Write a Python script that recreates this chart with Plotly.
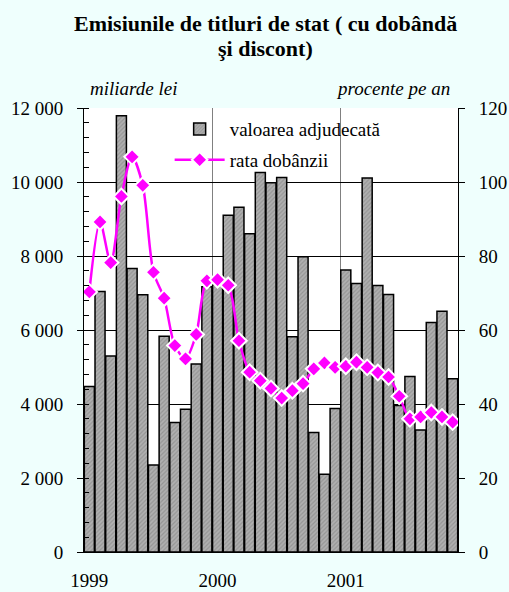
import plotly.graph_objects as go

# Monthly data Jan 1999 - Nov 2001
months = list(range(35))
valoarea = [4470, 7040, 5300, 11790, 7660, 6950, 2350, 5830, 3500, 3860, 5080, 7170,
            7230, 9100, 9320, 8600, 10260, 9980, 10120, 5820, 7980, 3230, 2100, 3880,
            7620, 7260, 10110, 7200, 6960, 3960, 4740, 3300, 6200, 6510, 4680]
rata = [70.3, 89.2, 78.2, 96.1, 106.8, 99.1, 75.6, 68.6, 55.8, 52.2, 58.8, 73.3,
        73.6, 72.1, 57.1, 48.6, 46.3, 44.2, 41.6, 43.6, 45.5, 49.5, 51.1, 49.9,
        50.2, 51.3, 49.9, 48.5, 47.3, 42.1, 36.0, 36.5, 37.7, 36.5, 35.1]
year_pos = [0, 12, 24]
year_labels = ["1999", "2000", "2001"]
year_bounds = [11.5, 23.5]
y1_ticks = [0, 2000, 4000, 6000, 8000, 10000, 12000]
y1_labels = ["0", "2 000", "4 000", "6 000", "8 000", "10 000", "12 000"]

FONT = "Times New Roman"
BG = "#effffd"
regfont = dict(family=FONT, size=19, color="black", weight=500)

fig = go.Figure()
fig.add_trace(go.Bar(
    x=months, y=valoarea, name="valoarea adjudecată", legendgroup="a",
    marker=dict(color="#a8a8a8", line=dict(color="black", width=1.5),
                pattern=dict(shape="/", fgcolor="#7a7a7a", bgcolor="#b0b0b0",
                             size=3, solidity=0.4)),
))
fig.add_trace(go.Scatter(
    x=months, y=rata, name="rata dobânzii", yaxis="y2", mode="lines+markers",
    legendgroup="b",
    line=dict(color="#ff00ff", width=2.5, shape="spline", smoothing=0.8),
    marker=dict(symbol="diamond", size=12, color="#ff00ff",
                line=dict(color="white", width=2)),
))

fig.update_layout(
    width=509, height=592,
    margin=dict(l=84, r=51, t=108, b=40, autoexpand=False),
    paper_bgcolor=BG, plot_bgcolor="white",
    font=regfont,
    bargap=0.06,
    showlegend=True,
    legend=dict(x=0.229, y=0.995, xanchor="left", yanchor="top",
                bgcolor="rgba(0,0,0,0)", borderwidth=0, font=regfont,
                tracegroupgap=3, itemwidth=50),
    xaxis=dict(range=[-0.5, 34.5], tickmode="array", tickvals=year_pos,
               ticktext=year_labels, ticks="", showgrid=False, zeroline=False,
               showline=True, linecolor="black", linewidth=1,
               ticklabelstandoff=11, tickfont=regfont,
               minor=dict(tickmode="array", tickvals=year_bounds, showgrid=True,
                          gridcolor="#808080", gridwidth=1, ticks="")),
    yaxis=dict(range=[0, 12000], tickmode="array", tickvals=y1_ticks, ticktext=y1_labels,
               ticks="outside", ticklen=6, tickcolor="black", showgrid=True,
               gridcolor="black", gridwidth=1, zeroline=False,
               showline=True, linecolor="black", linewidth=1,
               ticklabelstandoff=10, tickfont=regfont,
               minor=dict(dtick=400, ticks="inside", ticklen=5, tickcolor="black",
                          showgrid=False)),
    yaxis2=dict(range=[0, 120], dtick=20, overlaying="y", side="right",
                ticks="outside", ticklen=6, tickcolor="black", showgrid=False,
                zeroline=False, showline=True, linecolor="black", linewidth=1,
                ticklabelstandoff=10, tickfont=regfont),
    annotations=[
        dict(text="<b>Emisiunile de titluri de stat ( cu dobândă</b>", xref="paper",
             yref="paper", x=0.484, y=1.191, xanchor="center", yanchor="middle",
             showarrow=False, font=dict(family=FONT, size=22)),
        dict(text="<b>şi discont)</b>", xref="paper",
             yref="paper", x=0.484, y=1.133, xanchor="center", yanchor="middle",
             showarrow=False, font=dict(family=FONT, size=22)),
        dict(text="miliarde lei", xref="paper", yref="paper", x=0.01, y=1.045,
             xanchor="left", yanchor="middle", showarrow=False,
             font=dict(family=FONT, size=19, style="italic", weight=500)),
        dict(text="procente pe an", xref="paper", yref="paper", x=0.984, y=1.045,
             xanchor="right", yanchor="middle", showarrow=False,
             font=dict(family=FONT, size=19, style="italic", weight=500)),
    ],
)

post = (
    "document.body.style.margin='0';"
    f"document.body.style.background='{BG}';"
)
fig.write_html("out.html", config={"displayModeBar": False}, post_script=post)
